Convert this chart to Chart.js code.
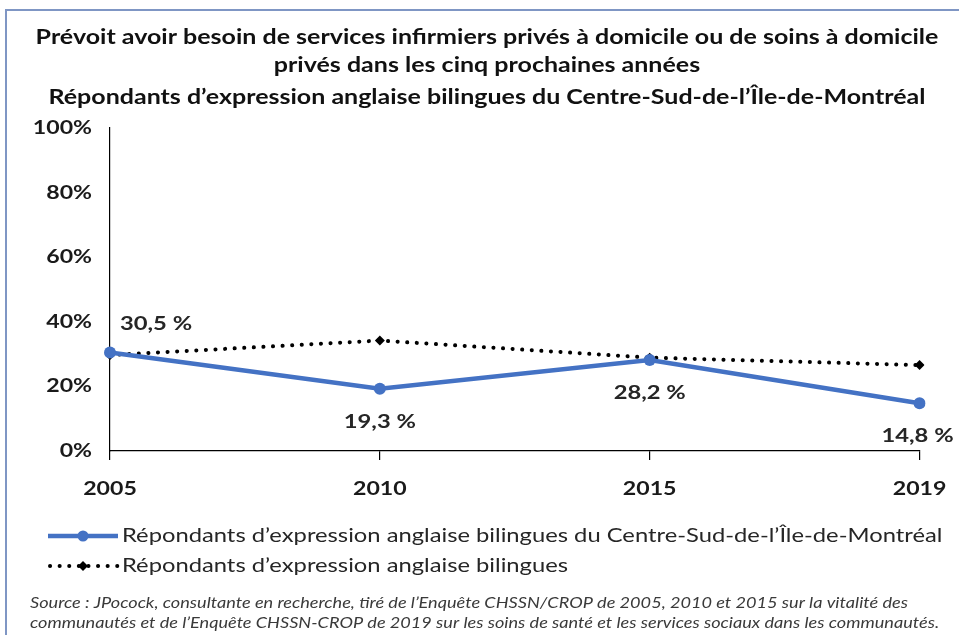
<!DOCTYPE html>
<html>
<head>
<meta charset="utf-8">
<script src="https://cdn.jsdelivr.net/npm/chart.js@4.4.1/dist/chart.umd.min.js"></script>
<style>
  html, body { margin: 0; padding: 0; background: #ffffff; }
  #wrap { width: 959px; height: 635px; position: relative; }
</style>
</head>
<body>
<div id="wrap"><canvas id="chart" width="959" height="635"></canvas></div>
<script>
// Survey years and shares (%) who expect to need private home nursing/home care
const years = ['2005', '2010', '2015', '2019'];
const centreSud = [30.5, 19.3, 28.2, 14.8];
const bilingues = [29.7, 34.2, 28.9, 26.6];
const yTicks = [0, 20, 40, 60, 80, 100];

const titleLines = [
  'Prévoit avoir besoin de services infirmiers privés à domicile ou de soins à domicile',
  'privés dans les cinq prochaines années',
  'Répondants d\u2019expression anglaise bilingues du Centre-Sud-de-l\u2019Île-de-Montréal'
];
const seriesNames = [
  'Répondants d\u2019expression anglaise bilingues du Centre-Sud-de-l\u2019Île-de-Montréal',
  'Répondants d\u2019expression anglaise bilingues'
];
const sourceLines = [
  'Source : JPocock, consultante en recherche, tiré de l\u2019Enquête CHSSN/CROP de 2005, 2010 et 2015 sur la vitalité des',
  'communautés et de l\u2019Enquête CHSSN-CROP de 2019 sur les soins de santé et les services sociaux dans les communautés.'
];

const BLUE = '#4472C4';
const FONT = 'Lato, "Open Sans", sans-serif';
const TEXT_STRETCH = 1.25; // wide text setting used for every label
const fmt = v => v.toFixed(1).replace('.', ',') + ' %';

const canvas = document.getElementById('chart');
const context = canvas.getContext('2d');
// Draw all text horizontally widened around its anchor point
const baseFillText = context.fillText;
context.fillText = function (text, x, y) {
  this.save();
  this.translate(x, y);
  this.scale(TEXT_STRETCH, 1);
  baseFillText.call(this, text, 0, 0);
  this.restore();
};

// Frame, title, legend and source note
const decor = {
  id: 'decor',
  beforeDraw(chart) {
    const ctx = chart.ctx;
    ctx.save();
    ctx.fillStyle = '#fff';
    ctx.fillRect(0, 0, chart.width, chart.height);
    ctx.strokeStyle = '#7f96c4';
    ctx.lineWidth = 2;
    ctx.strokeRect(6, 10, 1200, 1200);
    ctx.restore();
  },
  afterDraw(chart) {
    const ctx = chart.ctx;
    ctx.save();
    // title
    ctx.fillStyle = '#111';
    ctx.textAlign = 'center';
    ctx.textBaseline = 'middle';
    ctx.font = 'bold 20px ' + FONT;
    const ty = [38, 66, 98];
    titleLines.forEach((t, i) => ctx.fillText(t, 487, ty[i]));

    // legend
    const ly = [536, 566];
    ctx.textAlign = 'left';
    ctx.font = '19px ' + FONT;
    ctx.fillStyle = '#262626';
    ctx.fillText(seriesNames[0], 122, ly[0]);
    ctx.fillText(seriesNames[1], 122, ly[1]);
    // legend symbols
    ctx.strokeStyle = BLUE;
    ctx.lineWidth = 4.5;
    ctx.beginPath(); ctx.moveTo(48, ly[0]); ctx.lineTo(118, ly[0]); ctx.stroke();
    ctx.fillStyle = BLUE;
    ctx.beginPath(); ctx.arc(83, ly[0], 5.5, 0, Math.PI * 2); ctx.fill();
    ctx.strokeStyle = '#000';
    ctx.lineWidth = 4;
    ctx.lineCap = 'round';
    ctx.setLineDash([0.1, 9.5]);
    ctx.beginPath(); ctx.moveTo(50, ly[1]); ctx.lineTo(118, ly[1]); ctx.stroke();
    ctx.setLineDash([]);
    ctx.fillStyle = '#000';
    ctx.beginPath();
    ctx.moveTo(83, ly[1] - 5); ctx.lineTo(88, ly[1]); ctx.lineTo(83, ly[1] + 5); ctx.lineTo(78, ly[1]);
    ctx.closePath(); ctx.fill();

    // source note
    ctx.font = 'italic 14.5px ' + FONT;
    ctx.fillStyle = '#3a3a3a';
    ctx.fillText(sourceLines[0], 30, 603);
    ctx.fillText(sourceLines[1], 30, 623);
    ctx.restore();
  }
};

// Value labels on the Centre-Sud series
const valueLabels = {
  id: 'valueLabels',
  afterDatasetsDraw(chart) {
    const ctx = chart.ctx;
    const meta = chart.getDatasetMeta(0);
    ctx.save();
    ctx.font = 'bold 19px ' + FONT;
    ctx.fillStyle = '#262626';
    ctx.textBaseline = 'middle';
    meta.data.forEach((pt, i) => {
      const v = centreSud[i];
      if (i === 0) {
        ctx.textAlign = 'left';
        ctx.fillText(fmt(v), pt.x + 10, pt.y - 29);
      } else if (i === meta.data.length - 1) {
        ctx.textAlign = 'center';
        ctx.fillText(fmt(v), pt.x - 2, pt.y + 33);
      } else {
        ctx.textAlign = 'center';
        ctx.fillText(fmt(v), pt.x, pt.y + 33);
      }
    });
    ctx.restore();
  }
};

new Chart(canvas, {
  type: 'line',
  data: {
    labels: years,
    datasets: [
      {
        label: seriesNames[0],
        data: centreSud,
        borderColor: BLUE,
        backgroundColor: BLUE,
        borderWidth: 4.5,
        pointRadius: 6,
        pointBorderWidth: 0,
        pointBackgroundColor: BLUE,
        tension: 0,
        order: 0
      },
      {
        label: seriesNames[1],
        data: bilingues,
        borderColor: '#000',
        backgroundColor: '#000',
        borderWidth: 4,
        borderDash: [0.1, 9.5],
        borderCapStyle: 'round',
        pointStyle: 'rectRot',
        pointRadius: 5,
        pointBorderWidth: 0,
        pointBackgroundColor: '#000',
        tension: 0,
        order: 1
      }
    ]
  },
  options: {
    responsive: false,
    animation: false,
    devicePixelRatio: 1,
    layout: { padding: { left: 30, right: 39, top: 128, bottom: 134 } },
    plugins: { legend: { display: false }, title: { display: false }, tooltip: { enabled: false } },
    scales: {
      x: {
        offset: false,
        grid: { drawOnChartArea: false, drawTicks: true, tickLength: 9, color: '#000', lineWidth: 1.2 },
        border: { display: true, color: '#000', width: 1.2 },
        ticks: { color: '#1a1a1a', font: { family: FONT, size: 18.5, weight: 'bold' }, padding: 18, maxRotation: 0 },
        afterFit(s) { s.height = 50; }
      },
      y: {
        min: 0, max: 100,
        afterBuildTicks(s) { s.ticks = yTicks.map(v => ({ value: v })); },
        grid: { drawOnChartArea: false, drawTicks: false },
        border: { display: true, color: '#000', width: 1.2 },
        ticks: { color: '#1a1a1a', font: { family: FONT, size: 18.5, weight: 'bold' }, padding: 18, callback: v => v + '%' },
        afterFit(s) { s.width = 80; }
      }
    }
  },
  plugins: [decor, valueLabels]
});
</script>
</body>
</html>
